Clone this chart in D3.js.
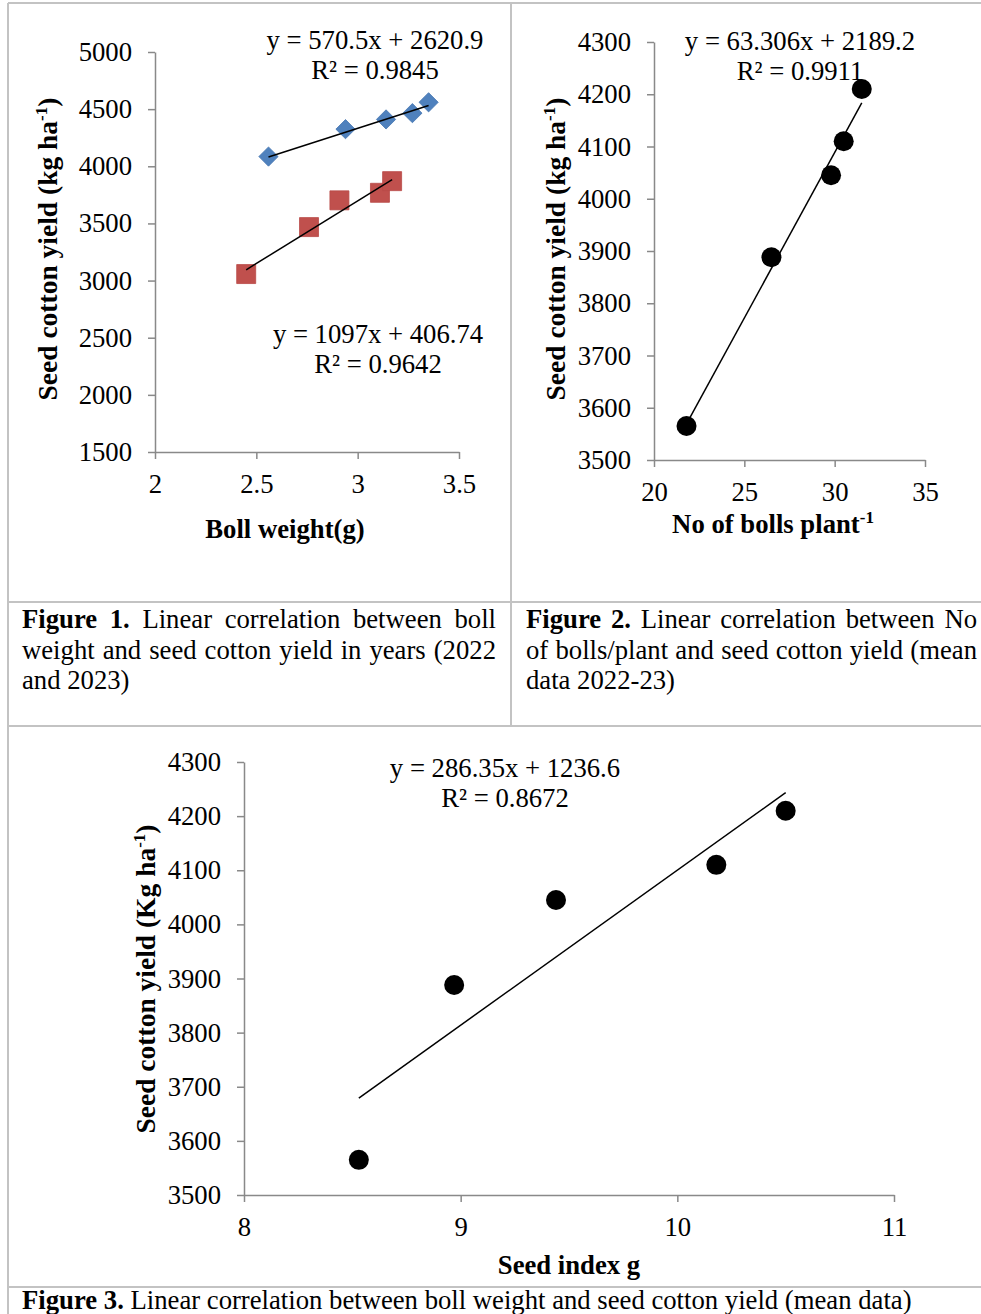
<!DOCTYPE html>
<html>
<head>
<meta charset="utf-8">
<script src="https://cdn.jsdelivr.net/npm/d3@7/dist/d3.min.js"></script>
<style>
	body { margin: 0; background: #fff; }
	svg { display: block; }
	text { font-family: "Liberation Serif", "Times New Roman", serif; fill: #000; }
</style>
</head>
<body>
<div id="chart"></div>
<script>
// figure 1 - boll weight vs seed cotton yield, two years
const bollWeightA = [2.56, 2.94, 3.14, 3.27, 3.35];
const yieldA = [4085, 4325, 4410, 4465, 4560];
const bollWeightB = [2.45, 2.76, 2.91, 3.11, 3.17];
const yieldB = [3057, 3468, 3702, 3768, 3870];

// figure 2 and 3 - mean data 2022-23
const bollsPerPlant = [21.8, 26.5, 29.8, 30.5, 31.5];
const seedIndex = [8.53, 8.97, 9.44, 10.18, 10.5];
const meanYield = [3565, 3888, 4045, 4110, 4210];

// trend lines as printed on the charts
const trendSlopes = [570.5, 1097, 63.306, 286.35];
const trendIntercepts = [2620.9, 406.74, 2189.2, 1236.6];
const trendR2 = ['0.9845', '0.9642', '0.9911', '0.8672'];

const fig1XTicks = [2, 2.5, 3, 3.5];
const fig1YTicks = [1500, 2000, 2500, 3000, 3500, 4000, 4500, 5000];
const fig2XTicks = [20, 25, 30, 35];
const fig3XTicks = [8, 9, 10, 11];
const yieldTicks = [3500, 3600, 3700, 3800, 3900, 4000, 4100, 4200, 4300];

const captions = [
	['Figure 1.', 'Linear correlation between boll', 'weight and seed cotton yield in years (2022', 'and 2023)'],
	['Figure 2.', 'Linear correlation between No', 'of bolls/plant  and seed cotton yield (mean', 'data 2022-23)'],
	['Figure 3.', 'Linear correlation between boll weight and seed cotton yield (mean data)']
];

let width = 981,
	height = 1314,
	fs = 26.7,
	axisColor = '#898989',
	borderColor = '#c3c3c3',
	blue = '#4f81bd',
	red = '#c0504d',
	svg = d3.select('#chart').append('svg').attr('width', width).attr('height', height);

// table borders
let borders = [
	[8, 3, 981, 3], [8, 3, 8, 1314], [511, 3, 511, 727],
	[8, 602, 981, 602], [8, 726, 981, 726], [8, 1287, 981, 1287]
];
svg.selectAll('line.border').data(borders).enter().append('line')
	.attr('class', 'border')
	.attr('x1', d => d[0]).attr('y1', d => d[1])
	.attr('x2', d => d[2]).attr('y2', d => d[3])
	.attr('stroke', borderColor).attr('stroke-width', 2);

function drawAxes(x, y, xTicks, yTicks, xFmt) {
	let gx = svg.append('g')
		.attr('transform', 'translate(0,' + y.range()[0] + ')')
		.call(d3.axisBottom(x).tickValues(xTicks).tickFormat(xFmt).tickSize(7).tickSizeOuter(0).tickPadding(15));
	let gy = svg.append('g')
		.attr('transform', 'translate(' + x.range()[0] + ',0)')
		.call(d3.axisLeft(y).tickValues(yTicks).tickFormat(d3.format('d')).tickSize(7).tickSizeOuter(0).tickPadding(16));
	[gx, gy].forEach(g => {
		g.select('.domain').attr('stroke', axisColor).attr('stroke-width', 1.5);
		g.selectAll('.tick line').attr('stroke', axisColor).attr('stroke-width', 1.5);
		g.selectAll('.tick text').attr('font-size', fs).attr('font-family', '"Liberation Serif", serif').attr('fill', '#000');
	});
}

function trendLine(x, y, xs, i) {
	let ext = d3.extent(xs);
	svg.append('line')
		.attr('x1', x(ext[0])).attr('y1', y(trendSlopes[i] * ext[0] + trendIntercepts[i]))
		.attr('x2', x(ext[1])).attr('y2', y(trendSlopes[i] * ext[1] + trendIntercepts[i]))
		.attr('stroke', '#000').attr('stroke-width', 1.5);
}

function equation(cx, baseline, i) {
	let sign = trendIntercepts[i] < 0 ? ' - ' : ' + ';
	svg.append('text').attr('x', cx).attr('y', baseline).attr('text-anchor', 'middle').attr('font-size', fs)
		.text('y = ' + trendSlopes[i] + 'x' + sign + trendIntercepts[i]);
	svg.append('text').attr('x', cx).attr('y', baseline + 30).attr('text-anchor', 'middle').attr('font-size', fs)
		.text('R² = ' + trendR2[i]);
}

function yTitle(cx, cy, unit) {
	let t = svg.append('text')
		.attr('transform', 'translate(' + cx + ',' + cy + ') rotate(-90)')
		.attr('text-anchor', 'middle').attr('font-size', 27.5).attr('font-weight', 'bold');
	t.append('tspan').text('Seed cotton yield (' + unit + ' ha');
	t.append('tspan').attr('dy', -10).attr('font-size', 17).text('-1');
	t.append('tspan').attr('dy', 10).text(')');
}

function xTitle(cx, baseline, label, sup) {
	let t = svg.append('text').attr('x', cx).attr('y', baseline)
		.attr('text-anchor', 'middle').attr('font-size', fs).attr('font-weight', 'bold');
	t.append('tspan').text(label);
	if (sup) t.append('tspan').attr('dy', -10).attr('font-size', 17).text(sup);
}

// ---- Figure 1
let x1 = d3.scaleLinear().domain([2, 3.5]).range([155, 459]),
	y1 = d3.scaleLinear().domain([1500, 5000]).range([452, 52]);
drawAxes(x1, y1, fig1XTicks, fig1YTicks, d3.format('~g'));

svg.append('g').selectAll('path').data(bollWeightB).enter().append('path')
	.attr('d', d3.symbol(d3.symbolSquare, 361))
	.attr('transform', (d, i) => 'translate(' + x1(d) + ',' + y1(yieldB[i]) + ')')
	.attr('fill', red).attr('stroke', '#b94a47').attr('stroke-width', 0.8);
svg.append('g').selectAll('path').data(bollWeightA).enter().append('path')
	.attr('d', d3.symbol(d3.symbolSquare, 185))
	.attr('transform', (d, i) => 'translate(' + x1(d) + ',' + y1(yieldA[i]) + ') rotate(45)')
	.attr('fill', blue).attr('stroke', '#4a7ab3').attr('stroke-width', 0.8);
trendLine(x1, y1, bollWeightA, 0);
trendLine(x1, y1, bollWeightB, 1);
equation(375, 49, 0);
equation(378, 343, 1);
yTitle(57, 249, 'kg');
xTitle(285, 538, 'Boll weight(g)');

// ---- Figure 2
let x2 = d3.scaleLinear().domain([20, 35]).range([654, 925]),
	y2 = d3.scaleLinear().domain([3500, 4300]).range([460, 42]);
drawAxes(x2, y2, fig2XTicks, yieldTicks, d3.format('d'));
equation(800, 50, 2);
svg.append('g').selectAll('circle').data(bollsPerPlant).enter().append('circle')
	.attr('cx', d => x2(d)).attr('cy', (d, i) => y2(meanYield[i])).attr('r', 10).attr('fill', '#000');
trendLine(x2, y2, bollsPerPlant, 2);
yTitle(565, 249, 'kg');
xTitle(773, 533, 'No of bolls plant', '-1');

// ---- Figure 3
let x3 = d3.scaleLinear().domain([8, 11]).range([244, 894]),
	y3 = d3.scaleLinear().domain([3500, 4300]).range([1195, 762]);
drawAxes(x3, y3, fig3XTicks, yieldTicks, d3.format('d'));
svg.append('g').selectAll('circle').data(seedIndex).enter().append('circle')
	.attr('cx', d => x3(d)).attr('cy', (d, i) => y3(meanYield[i])).attr('r', 10).attr('fill', '#000');
trendLine(x3, y3, seedIndex, 3);
equation(505, 777, 3);
yTitle(155, 979, 'Kg');
xTitle(569, 1274, 'Seed index g');

// ---- captions; first lines are justified word by word
function justified(words, x0, x1e, baseline, boldCount) {
	let t = svg.append('text').attr('y', baseline).attr('font-size', fs);
	let spans = words.map((w, i) => t.append('tspan').attr('font-weight', i < boldCount ? 'bold' : null).text(w));
	let widths = spans.map(s => s.node().getComputedTextLength()),
		gap = words.length > 1 ? (x1e - x0 - d3.sum(widths)) / (words.length - 1) : 0,
		pos = x0;
	spans.forEach((s, i) => { s.attr('x', pos); pos += widths[i] + gap; });
}
function plain(words, x0, baseline, boldCount) {
	let t = svg.append('text').attr('x', x0).attr('y', baseline).attr('font-size', fs);
	words.forEach((w, i) => t.append('tspan').attr('font-weight', i < boldCount ? 'bold' : null)
		.text((i ? ' ' : '') + w));
}
function caption(c, x0, x1e, baseline) {
	let head = c[0].split(' ');
	if (c.length > 2) {
		justified(head.concat(c[1].split(' ')), x0, x1e, baseline, head.length);
		justified(c[2].split(/ +/), x0, x1e, baseline + 30.5, 0);
		plain([c[3]], x0, baseline + 61, 0);
	} else {
		plain([c[0], c[1]], x0, baseline, 1);
	}
}
caption(captions[0], 22, 496, 628);
caption(captions[1], 526, 977, 628);
caption(captions[2], 22, 911, 1309);
</script>
</body>
</html>
